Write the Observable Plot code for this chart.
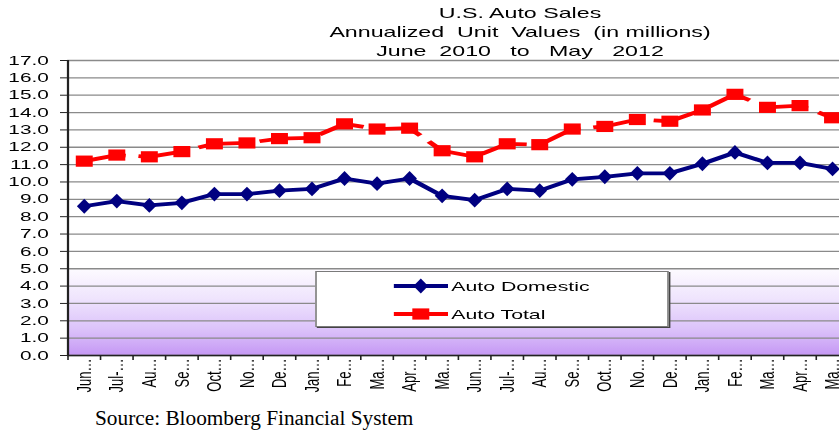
<!DOCTYPE html>
<html><head><meta charset="utf-8">
<script src="https://cdn.jsdelivr.net/npm/d3@7"></script>
<script src="https://cdn.jsdelivr.net/npm/@observablehq/plot@0.6"></script>
<style>
html,body{margin:0;padding:0;background:#fff;overflow:hidden;width:839px;height:433px;}
#wrap{position:absolute;left:0;top:0;width:530px;height:400px;transform:scaleX(1.6);transform-origin:0 0;}
#title{position:absolute;left:0;top:4px;width:650px;text-align:center;font-family:"Liberation Sans",Arial,sans-serif;font-size:14.5px;line-height:19px;white-space:pre;color:#000;}
#chart{position:absolute;left:0;top:0;}
#legend{position:absolute;left:197px;top:271px;width:219px;height:54px;background:#fff;border:1px solid #7a7a7a;box-shadow:1px 1px 0 #444;font-family:"Liberation Sans",Arial,sans-serif;font-size:13.3px;}
.item{position:absolute;left:48px;height:16px;display:flex;align-items:center;}
.item svg{display:block;margin-right:2px;}
#source{position:absolute;left:95px;top:406px;font-family:"Liberation Serif","Times New Roman",serif;font-size:21.3px;color:#000;}
</style></head>
<body>
<div id="wrap">
  <div id="chart"></div>
  <div id="title"></div>
  <div id="legend"></div>
</div>
<div id="source"></div>
<script>
const titleLines = ["U.S. Auto Sales", "Annualized  Unit  Values  (in millions)", "June  2010   to   May   2012"];
const sourceText = "Source: Bloomberg Financial System";
const months = ["Jun-10","Jul-10","Aug-10","Sep-10","Oct-10","Nov-10","Dec-10","Jan-11","Feb-11","Mar-11","Apr-11","May-11",
                "Jun-11","Jul-11","Aug-11","Sep-11","Oct-11","Nov-11","Dec-11","Jan-12","Feb-12","Mar-12","Apr-12","May-12"];
const tickLabels = ["Jun…","Jul-…","Au…","Se…","Oct…","No…","De…","Jan…","Fe…","Ma…","Apr…","Ma…",
                    "Jun…","Jul-…","Au…","Se…","Oct…","No…","De…","Jan…","Fe…","Ma…","Apr…","Ma…"];
const autoDomestic = [8.6, 8.9, 8.65, 8.8, 9.3, 9.3, 9.5, 9.6, 10.2, 9.9, 10.2, 9.2,
                      8.95, 9.6, 9.5, 10.15, 10.3, 10.5, 10.5, 11.05, 11.7, 11.1, 11.1, 10.75];
const autoTotal = [11.2, 11.55, 11.45, 11.75, 12.2, 12.25, 12.5, 12.55, 13.35, 13.05, 13.1, 11.8,
                   11.45, 12.2, 12.15, 13.05, 13.2, 13.6, 13.5, 14.15, 15.05, 14.3, 14.4, 13.7];
const yTicks = d3.range(0, 18);
const seriesNames = ["Auto Domestic", "Auto Total"];
const seriesColors = ["#000080", "#ff0000"];

const rows = months.map((m, i) => ({month: m, pos: i + 0.5, dom: autoDomestic[i], tot: autoTotal[i]}));
const squareSym = {draw(ctx) { ctx.moveTo(-5.3, -5.6); ctx.lineTo(5.3, -5.6); ctx.lineTo(5.3, 5.6); ctx.lineTo(-5.3, 5.6); ctx.closePath(); }};
const diamondSym = {draw(ctx) { ctx.moveTo(0, -7.4); ctx.lineTo(4.6, 0); ctx.lineTo(0, 7.4); ctx.lineTo(-4.6, 0); ctx.closePath(); }};

const svg = Plot.plot({
  width: 530, height: 395,
  marginLeft: 42, marginRight: 0, marginTop: 60, marginBottom: 40,
  x: {domain: [0, months.length]},
  y: {domain: [0, 17]},
  style: {fontFamily: "Liberation Sans, Arial, sans-serif", fontSize: "13px", color: "#000", background: "transparent", overflow: "visible"},
  marks: [
    Plot.rect([0], {y1: 0, y2: 5, fill: "url(#bgGrad)"}),
    Plot.ruleY(yTicks, {stroke: "#8a8a8a", strokeWidth: 1.3}),
    Plot.axisY({ticks: yTicks, tickFormat: d => d.toFixed(1), tickSize: 4.5, tickPadding: 7.5, fontSize: 13, label: null, stroke: "#222"}),
    Plot.axisX({ticks: d3.range(0, months.length + 1), tickFormat: () => "", tickSize: 5, label: null, stroke: "#222"}),
    Plot.axisX({ticks: rows.map(d => d.pos), tickFormat: d => tickLabels[Math.floor(d)], tickSize: 0, tickPadding: 3, tickRotate: -90, fontSize: 13, label: null}),
    Plot.ruleX([0], {stroke: "#222", strokeWidth: 1.4}),
    Plot.ruleY([0], {stroke: "#222", strokeWidth: 1.4}),
    Plot.line(rows, {x: "pos", y: "tot", stroke: seriesColors[1], strokeWidth: 3.8, strokeLinecap: "butt", strokeDasharray: "31,8", strokeDashoffset: 4.2}),
    Plot.dot(rows, {x: "pos", y: "tot", symbol: squareSym, fill: seriesColors[1], stroke: null}),
    Plot.line(rows, {x: "pos", y: "dom", stroke: seriesColors[0], strokeWidth: 3.8}),
    Plot.dot(rows, {x: "pos", y: "dom", symbol: diamondSym, fill: seriesColors[0], stroke: null})
  ]
});
d3.select(svg).insert("defs", ":first-child").html(
  '<linearGradient id="bgGrad" x1="0" y1="0" x2="0" y2="1">' +
  '<stop offset="0%" stop-color="#fdfbff"/><stop offset="35%" stop-color="#efe4fd"/>' +
  '<stop offset="70%" stop-color="#dcc3fa"/><stop offset="100%" stop-color="#c598f4"/></linearGradient>');
document.getElementById("chart").appendChild(svg);

document.getElementById("title").textContent = titleLines.join("\n");
document.getElementById("source").textContent = sourceText;

const legend = document.getElementById("legend");
seriesNames.forEach((name, k) => {
  const it = document.createElement("div");
  it.className = "item";
  it.style.top = (k === 0 ? 6 : 34) + "px";
  const marker = k === 0
    ? '<path d="M17,0.6 L21.6,8 L17,15.4 L12.4,8 Z" fill="' + seriesColors[0] + '"/>'
    : '<rect x="11.7" y="2.4" width="10.6" height="11.2" fill="' + seriesColors[1] + '"/>';
  it.innerHTML = '<svg width="34" height="16"><line x1="0" x2="34" y1="8" y2="8" stroke="' + seriesColors[k] + '" stroke-width="3.8"/>' + marker + '</svg><span>' + name + '</span>';
  legend.appendChild(it);
});
</script>
</body></html>
